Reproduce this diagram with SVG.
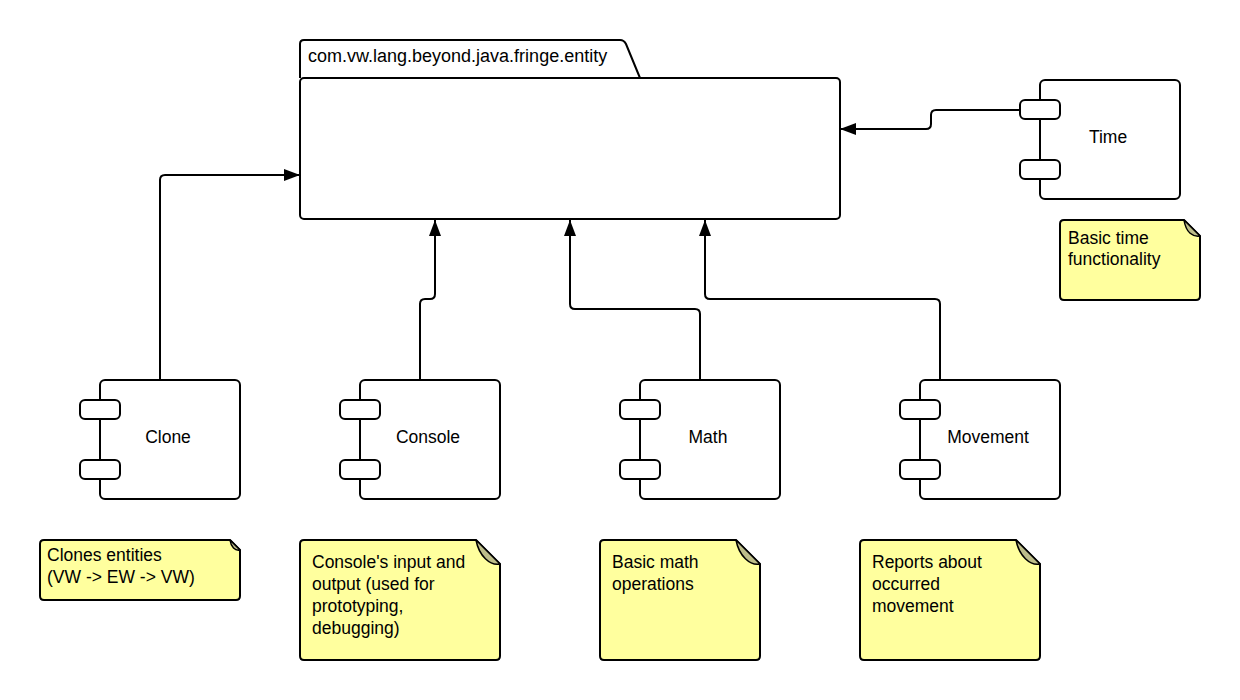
<svg xmlns="http://www.w3.org/2000/svg" width="1240" height="700" viewBox="0 0 1240 700">
<defs>
<marker id="arr" viewBox="0 0 16 12" refX="16" refY="6" markerWidth="16" markerHeight="12" markerUnits="userSpaceOnUse" orient="auto">
<path d="M0,0 L16,6 L0,12 z" fill="#000"/>
</marker>
</defs>
<style>
.ln{fill:none;stroke:#000;stroke-width:2;stroke-linejoin:round}
.box{fill:#fff;stroke:#000;stroke-width:2}
.note{fill:#ffff9e;stroke:#000;stroke-width:2;stroke-linejoin:round}
.fold{fill:#bdbd8a;stroke:#000;stroke-width:1.5;stroke-linejoin:round}
.t{font-family:"Liberation Sans",Arial,sans-serif;font-size:17.5px;fill:#000}
.c{text-anchor:middle}
.conn{fill:none;stroke:#000;stroke-width:2;marker-end:url(#arr)}
</style>
<rect width="1240" height="700" fill="#fff"/>
<g id="connectors">
<path class="conn" d="M160,380 V180 Q160,175 165,175 H300"/>
<path class="conn" d="M420,380 V304 Q420,299 425,299 H430 Q435,299 435,294 V220"/>
<path class="conn" d="M700,380 V314 Q700,309 695,309 H575 Q570,309 570,304 V220"/>
<path class="conn" d="M940,380 V304 Q940,299 935,299 H710 Q705,299 705,294 V220"/>
<path class="conn" d="M1020,110 H936 Q931,110 931,115 V124 Q931,129 926,129 H840"/>
</g>
<g id="package">
<path class="box" d="M300,78 V44 Q300,40 304,40 H620 Q624,40 626,44 L640,78"/>
<rect class="box" x="300" y="78" width="540" height="141" rx="4"/>
<text class="t" x="308" y="62" style="font-size:18px">com.vw.lang.beyond.java.fringe.entity</text>
</g>
<g id="time">
<rect class="box" x="1040" y="80" width="140" height="119" rx="5"/>
<rect class="box" x="1020" y="100" width="40" height="19" rx="5"/>
<rect class="box" x="1020" y="160" width="40" height="19" rx="5"/>
<text class="t c" x="1108" y="143">Time</text>
</g>
<g id="clone">
<rect class="box" x="100" y="380" width="140" height="119" rx="5"/>
<rect class="box" x="80" y="400" width="40" height="19" rx="5"/>
<rect class="box" x="80" y="460" width="40" height="19" rx="5"/>
<text class="t c" x="168" y="443">Clone</text>
</g>
<g id="console">
<rect class="box" x="360" y="380" width="140" height="119" rx="5"/>
<rect class="box" x="340" y="400" width="40" height="19" rx="5"/>
<rect class="box" x="340" y="460" width="40" height="19" rx="5"/>
<text class="t c" x="428" y="443">Console</text>
</g>
<g id="math">
<rect class="box" x="640" y="380" width="140" height="119" rx="5"/>
<rect class="box" x="620" y="400" width="40" height="19" rx="5"/>
<rect class="box" x="620" y="460" width="40" height="19" rx="5"/>
<text class="t c" x="708" y="443">Math</text>
</g>
<g id="movement">
<rect class="box" x="920" y="380" width="140" height="119" rx="5"/>
<rect class="box" x="900" y="400" width="40" height="19" rx="5"/>
<rect class="box" x="900" y="460" width="40" height="19" rx="5"/>
<text class="t c" x="988" y="443">Movement</text>
</g>
<g id="note-time">
<path class="note" d="M1064,220 H1184 L1200,236 V296 Q1200,300 1196,300 H1064 Q1060,300 1060,296 V224 Q1060,220 1064,220 z"/>
<path class="fold" d="M1184,220 L1200,236 C1193,237 1186,233 1184,220 z"/>
<text class="t" x="1068" y="244">Basic time</text>
<text class="t" x="1068" y="265">functionality</text>
</g>
<g id="note-clone">
<path class="note" d="M44,540 H230 L240,550 V596 Q240,600 236,600 H44 Q40,600 40,596 V544 Q40,540 44,540 z"/>
<path class="fold" d="M230,540 L240,550 C235,551 231,547 230,540 z"/>
<text class="t" x="47" y="561">Clones entities</text>
<text class="t" x="47" y="583">(VW -&gt; EW -&gt; VW)</text>
</g>
<g id="note-console">
<path class="note" d="M304,540 H476 L500,564 V656 Q500,660 496,660 H304 Q300,660 300,656 V544 Q300,540 304,540 z"/>
<path class="fold" d="M476,540 L500,564 C490,566 479,556 476,540 z"/>
<text class="t" x="312" y="568">Console's input and</text>
<text class="t" x="312" y="590">output (used for</text>
<text class="t" x="312" y="612">prototyping,</text>
<text class="t" x="312" y="634">debugging)</text>
</g>
<g id="note-math">
<path class="note" d="M604,540 H736 L760,564 V656 Q760,660 756,660 H604 Q600,660 600,656 V544 Q600,540 604,540 z"/>
<path class="fold" d="M736,540 L760,564 C750,566 739,556 736,540 z"/>
<text class="t" x="612" y="568">Basic math</text>
<text class="t" x="612" y="590">operations</text>
</g>
<g id="note-movement">
<path class="note" d="M864,540 H1016 L1040,564 V656 Q1040,660 1036,660 H864 Q860,660 860,656 V544 Q860,540 864,540 z"/>
<path class="fold" d="M1016,540 L1040,564 C1030,566 1019,556 1016,540 z"/>
<text class="t" x="872" y="568">Reports about</text>
<text class="t" x="872" y="590">occurred</text>
<text class="t" x="872" y="612">movement</text>
</g>
</svg>
